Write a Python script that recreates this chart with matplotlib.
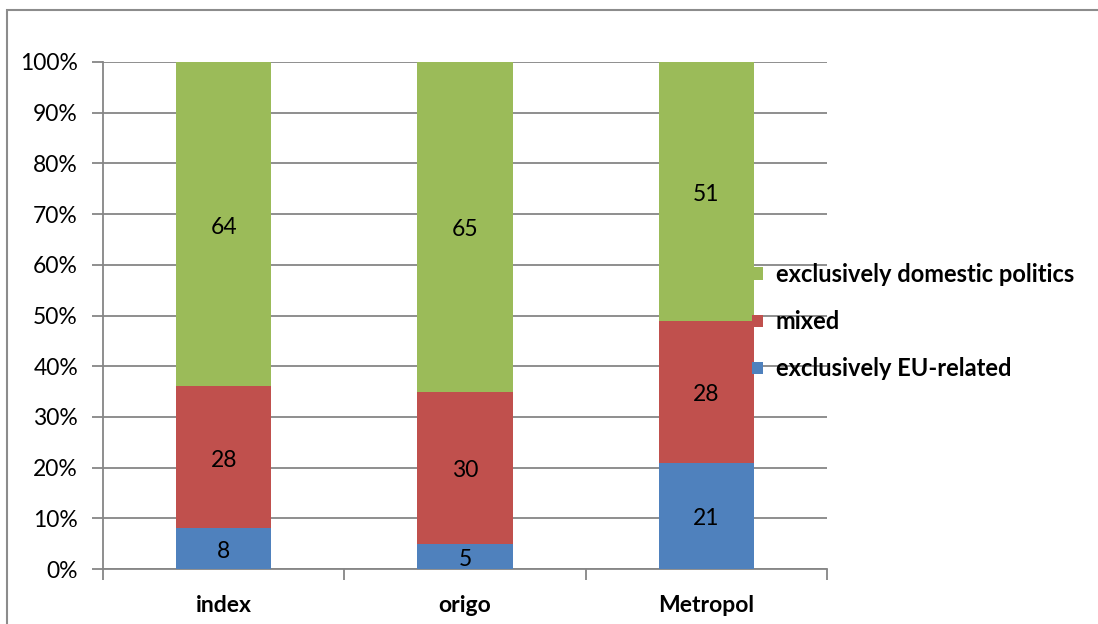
import numpy as np
import matplotlib
matplotlib.use("Agg")
import matplotlib.pyplot as plt
from matplotlib.patches import Rectangle, Patch

plt.rcParams["font.family"] = ["Lato", "DejaVu Sans"]

# ---------- data ----------
outlets = ["index", "origo", "Metropol"]
eu_related = [8, 5, 21]
mixed = [28, 30, 28]
domestic = [64, 65, 51]
series_names = ["exclusively EU-related", "mixed", "exclusively domestic politics"]
y_ticks = [0, 10, 20, 30, 40, 50, 60, 70, 80, 90, 100]

colors = ["#4F81BD", "#C0504D", "#9BBB59"]
grid_col = "#868686"

fig = plt.figure(figsize=(10.98, 6.24), dpi=100)
ax = fig.add_axes([103 / 1098, 1 - 569 / 624, (827 - 103) / 1098, (569 - 62) / 624])

# outer chart border
fig.patches.append(Rectangle((7 / 1098, -0.1), 1.2, 1 - 10 / 624 + 0.1,
                             transform=fig.transFigure, fill=False,
                             edgecolor="#8c8c8c", linewidth=1.5, zorder=0))

x = np.arange(len(outlets))
width = 0.395
bottom = np.zeros(len(outlets))
handles = []
for vals, name, col in zip([eu_related, mixed, domestic], series_names, colors):
    vals = np.array(vals, dtype=float)
    ax.bar(x, vals, width, bottom=bottom, color=col, label=name, zorder=3)
    for xi, b, v in zip(x, bottom, vals):
        ax.text(xi, b + v / 2 - 0.6, f"{int(v)}", ha="center", va="center",
                fontsize=16.5, color="black", zorder=4)
    bottom += vals
    handles.append(Patch(facecolor=col, label=name))

ax.set_xlim(-0.5, len(outlets) - 0.5)
ax.set_ylim(0, 100)
ax.set_yticks(y_ticks)
ax.set_yticklabels([f"{t}%" for t in y_ticks], fontsize=16.5)
ax.yaxis.grid(True, color=grid_col, linewidth=1.3, zorder=0)
ax.set_axisbelow(True)

# category labels centred, tick marks on boundaries
ax.set_xticks(x)
ax.set_xticklabels(outlets, fontsize=16.5, fontweight="bold")
ax.tick_params(axis="x", which="major", length=0, pad=19)
ax.set_xticks(np.arange(-0.5, len(outlets)), minor=True)
ax.tick_params(axis="x", which="minor", length=8, color=grid_col, width=1.3)
ax.tick_params(axis="y", length=8, color=grid_col, width=1.3, pad=10)

for s in ["top", "right"]:
    ax.spines[s].set_visible(False)
for s in ["left", "bottom"]:
    ax.spines[s].set_color(grid_col)
    ax.spines[s].set_linewidth(1.3)

ax.legend(handles=handles[::-1], loc="upper left",
          bbox_to_anchor=(731 / 1098, 1 - 242 / 624), bbox_transform=fig.transFigure,
          frameon=False, handlelength=0.45, handleheight=0.45, handletextpad=0.55,
          labelspacing=1.02, prop={"size": 17, "weight": "bold"})

fig.savefig("out.png", dpi=100)
